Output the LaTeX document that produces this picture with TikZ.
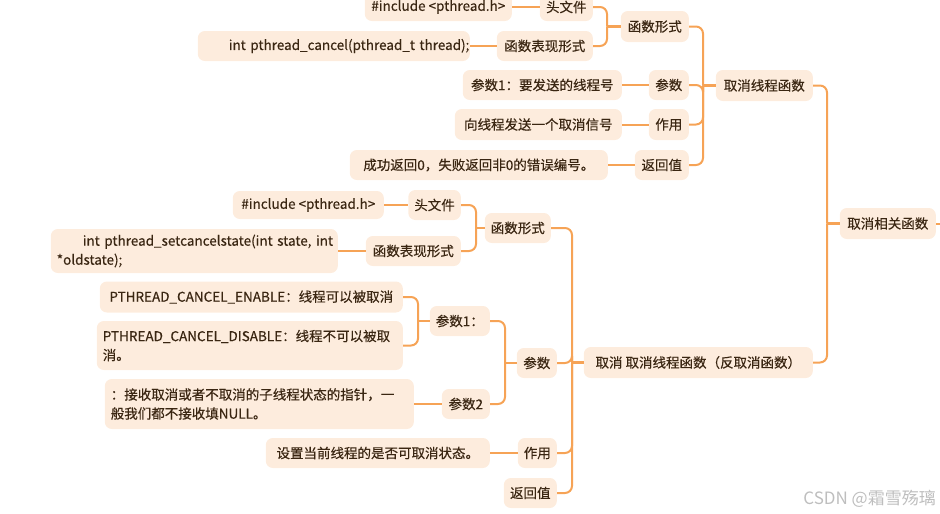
\documentclass[tikz,border=0pt]{standalone}
\usepackage{fontspec}
\setmainfont{Noto Sans CJK SC}
\newfontfamily\boxfont{Noto Sans CJK SC}[FakeBold=0.35]
\definecolor{boxfill}{RGB}{253,236,221}
\definecolor{lineor}{RGB}{246,163,86}
\definecolor{txt}{RGB}{58,38,18}
\definecolor{wmgray}{RGB}{190,190,190}
\begin{document}
\begin{tikzpicture}[x=1pt,y=-1pt,
  bx/.style={fill=boxfill, rounded corners=7pt, text=txt, font=\boxfont\fontsize{13.5}{19}\selectfont, inner xsep=6pt, inner ysep=0pt, minimum height=30pt, anchor=east},
  conn/.style={draw=lineor, line width=2pt, rounded corners=7pt},
  stub/.style={draw=lineor, line width=2.6pt}]
\useasboundingbox (0,0) rectangle (940,514);

% ---------- top subtree ----------
\node[bx, minimum width=147pt, minimum height=28pt] (inc1) at (512,7) {\#include <pthread.h>};
\node[bx, minimum width=53pt, minimum height=28pt] (h1) at (593,7) {头文件};
\node[bx, minimum width=68pt, minimum height=31pt] (f1) at (689,26.5) {函数形式};
\node[bx, minimum width=96pt] (fx1) at (593,46) {函数表现形式};
\node[bx, text width=260pt, align=left] (code1) at (470,46) {\hspace*{25pt}\mbox{int pthread\_cancel(pthread\_t thread);}};
\node[bx, minimum width=159pt] (p1txt) at (622,85) {参数1：要发送的线程号};
\node[bx, minimum width=40pt] (p1) at (689,85) {参数};
\node[bx, minimum width=167pt, minimum height=31pt] (z1txt) at (622,124.5) {向线程发送一个取消信号};
\node[bx, minimum width=40pt, minimum height=31pt] (z1) at (689,124.5) {作用};
\node[bx, minimum width=258pt] (r1txt) at (608,165) {成功返回0，失败返回非0的错误编号。};
\node[bx, minimum width=54pt] (r1) at (689,165) {返回值};
\node[bx, minimum width=97pt, minimum height=31pt] (cx1) at (813,85.5) {取消线程函数};
\node[bx, minimum width=96pt, minimum height=31pt] (root) at (936,223.5) {取消相关函数};

% ---------- bottom subtree ----------
\node[bx, minimum width=151pt, minimum height=28pt] (inc2) at (384,205) {\#include <pthread.h>};
\node[bx, minimum width=52pt] (h2) at (461,205) {头文件};
\node[bx, minimum width=63pt] (f2) at (551,228) {函数形式};
\node[bx, minimum width=95pt] (fx2) at (461,251) {函数表现形式};
\node[bx, text width=275pt, align=left, minimum height=44pt] (code2) at (338,251) {\hspace*{26pt}\mbox{int pthread\_setcancelstate(int state, int}\\\mbox{*oldstate);}};
\node[bx, minimum width=303pt, minimum height=31pt] (en) at (403,297) {PTHREAD\_CANCEL\_ENABLE：线程可以被取消};
\node[bx, text width=294pt, align=left, minimum height=49pt] (dis) at (403,345.5) {\mbox{PTHREAD\_CANCEL\_DISABLE：线程不可以被取}\\消。};
\node[bx, minimum width=60pt] (pa1) at (490,321) {参数1：};
\node[bx, text width=297pt, align=left, minimum height=50pt] (pa2txt) at (414,404) {\mbox{：接收取消或者不取消的子线程状态的指针，一}\\般我们都不接收填NULL。};
\node[bx, minimum width=48pt] (pa2) at (490,404) {参数2};
\node[bx, minimum width=40pt] (pa) at (557,363) {参数};
\node[bx, minimum width=229pt, minimum height=31pt] (cx2) at (813,362.5) {取消 取消线程函数（反取消函数）};
\node[bx, minimum width=224pt] (z2txt) at (490,453) {设置当前线程的是否可取消状态。};
\node[bx, minimum width=39pt] (z2) at (557,453) {作用};
\node[bx, minimum width=53pt] (r2) at (557,493) {返回值};

\node[font=\fontsize{17}{19}\selectfont, text=wmgray, anchor=east, inner sep=0pt] (wm) at (936,499) {CSDN @霜雪殇璃};

% ---------- bar coordinates ----------
\coordinate (b1) at (607,0);
\coordinate (b2) at (703,0);
\coordinate (b3) at (827,0);
\coordinate (b4) at (476,0);
\coordinate (b5) at (418,0);
\coordinate (b6) at (505,0);
\coordinate (b7) at (572,0);
\coordinate (edge) at (942,0);

% ---------- leaf connectors ----------
\draw[conn] (inc1.east) -- (h1.west);
\draw[conn] (code1.east) -- (fx1.west);
\draw[conn] (p1txt.east) -- (p1.west);
\draw[conn] (z1txt.east) -- (z1.west);
\draw[conn] (r1txt.east) -- (r1.west);
\draw[conn] (inc2.east) -- (h2.west);
\draw[conn] (code2.east) -- (fx2.west);
\draw[conn] (pa2txt.east) -- (pa2.west);
\draw[conn] (z2txt.east) -- (z2.west);

% ---------- brackets ----------
\draw[conn] (h1.east) -| (b1 |- f1.west);
\draw[conn] (fx1.east) -| (b1 |- f1.west);
\draw[stub] (b1 |- f1.west) -- (f1.west);

\draw[conn] (f1.east) -| (b2 |- cx1.west);
\draw[conn] (p1.east) -| (b2 |- cx1.west);
\draw[conn] (z1.east) -| (b2 |- cx1.west);
\draw[conn] (r1.east) -| (b2 |- cx1.west);
\draw[stub] (b2 |- cx1.west) -- (cx1.west);

\draw[conn] (cx1.east) -| (b3 |- root.west);
\draw[conn] (cx2.east) -| (b3 |- root.west);
\draw[stub] (b3 |- root.west) -- (root.west);
\draw[conn] (root.east) -- (edge |- root.east);

\draw[conn] (h2.east) -| (b4 |- f2.west);
\draw[conn] (fx2.east) -| (b4 |- f2.west);
\draw[stub] (b4 |- f2.west) -- (f2.west);

\draw[conn] (en.east) -| (b5 |- pa1.west);
\draw[conn] (dis.east) -| (b5 |- pa1.west);
\draw[stub] (b5 |- pa1.west) -- (pa1.west);

\draw[conn] (pa1.east) -| (b6 |- pa.west);
\draw[conn] (pa2.east) -| (b6 |- pa.west);
\draw[stub] (b6 |- pa.west) -- (pa.west);

\draw[conn] (f2.east) -| (b7 |- cx2.west);
\draw[conn] (pa.east) -| (b7 |- cx2.west);
\draw[conn] (z2.east) -| (b7 |- cx2.west);
\draw[conn] (r2.east) -| (b7 |- cx2.west);
\draw[stub] (b7 |- cx2.west) -- (cx2.west);
\end{tikzpicture}
\end{document}
